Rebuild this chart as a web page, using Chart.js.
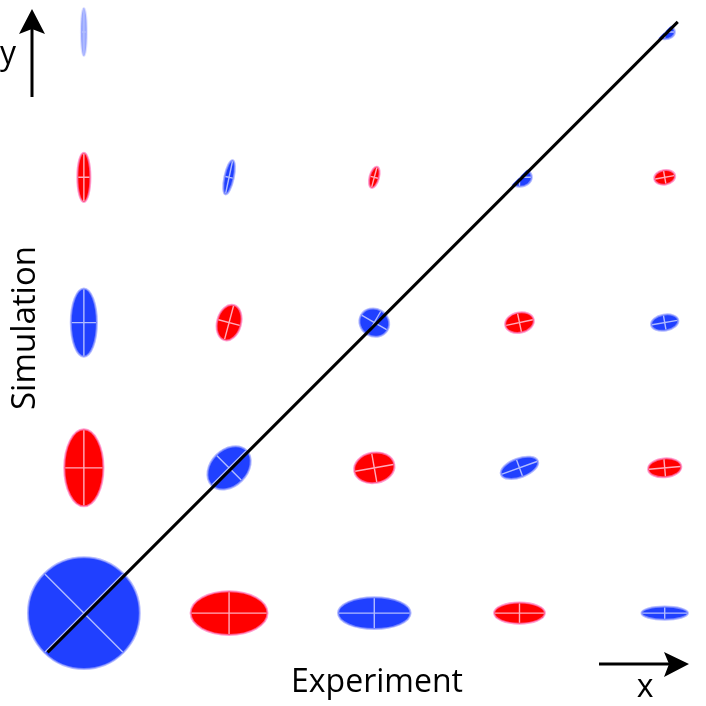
<!DOCTYPE html>
<html>
<head>
<meta charset="utf-8">
<script src="https://cdn.jsdelivr.net/npm/chart.js@4"></script>
<style>
  html, body { margin: 0; padding: 0; background: #fff; }
</style>
</head>
<body>
<canvas id="chart" width="706" height="706"></canvas>
<script>
// grid positions (column = experiment, row = simulation)
const blueX = [0, 2, 4, 1, 3, 0, 2, 4, 1, 3, 0, 4];
const blueY = [0, 0, 0, 1, 1, 2, 2, 2, 3, 3, 4, 4];
// full axis lengths (data units) and tilt of the first axis (degrees)
const blueW = [0.77, 0.50, 0.32, 0.34, 0.27, 0.18, 0.21, 0.19, 0.24, 0.17, 0.04, 0.14];
const blueH = [0.77, 0.22, 0.09, 0.25, 0.13, 0.47, 0.19, 0.11, 0.065, 0.13, 0.33, 0.10];
const blueAngle = [45, 0, 0, 45, 20, 0, -30, 10, 78, 0, 0, 0];
const blueHalf = [false, false, false, false, false, false, false, false, false, true, false, true];
const blueFaint = [false, false, false, false, false, false, false, false, false, false, true, false];

const redX = [1, 3, 0, 2, 4, 1, 3, 0, 2, 4];
const redY = [0, 0, 1, 1, 1, 2, 2, 3, 3, 3];
const redW = [0.53, 0.35, 0.27, 0.28, 0.23, 0.25, 0.20, 0.09, 0.15, 0.145];
const redH = [0.30, 0.145, 0.53, 0.21, 0.13, 0.165, 0.14, 0.34, 0.065, 0.10];
const redAngle = [0, 0, 0, 10, 5, 75, 12, 0, 75, 10];

const diagX = [-0.25, 4.09];
const diagY = [-0.27, 4.07];

function points(xs, ys) {
    return xs.map((x, i) => ({ x: x, y: ys[i] }));
}

const ellipsePlugin = {
    id: 'ellipses',
    beforeDatasetsDraw(chart) {
        const ctx = chart.ctx;
        const sx = chart.scales.x, sy = chart.scales.y;
        const unit = sx.getPixelForValue(1) - sx.getPixelForValue(0);
        chart.data.datasets.forEach(ds => {
            if (!ds.ellipse) return;
            const e = ds.ellipse;
            ds.data.forEach((p, i) => {
                const cx = sx.getPixelForValue(p.x);
                const cy = sy.getPixelForValue(p.y);
                const rx = e.w[i] * unit / 2;
                const ry = e.h[i] * unit / 2;
                const rot = -e.angle[i] * Math.PI / 180;
                ctx.save();
                if (e.half && e.half[i]) {
                    const R = Math.max(rx, ry) * 3 + 4;
                    ctx.beginPath();
                    ctx.moveTo(cx - R, cy + R);
                    ctx.lineTo(cx + R, cy - R);
                    ctx.lineTo(cx + R, cy + R);
                    ctx.closePath();
                    ctx.clip();
                }
                if (e.faint && e.faint[i]) ctx.globalAlpha = 0.45;
                ctx.filter = 'blur(0.6px)';
                ctx.beginPath();
                ctx.ellipse(cx, cy, rx, ry, rot, 0, Math.PI * 2);
                ctx.fillStyle = e.color;
                ctx.fill();
                ctx.lineWidth = 2;
                ctx.strokeStyle = e.halo;
                ctx.stroke();
                // principal axes
                ctx.filter = 'none';
                ctx.translate(cx, cy);
                ctx.rotate(rot);
                ctx.beginPath();
                ctx.moveTo(-rx + 1, 0);
                ctx.lineTo(rx - 1, 0);
                ctx.moveTo(0, -ry + 1);
                ctx.lineTo(0, ry - 1);
                ctx.lineWidth = 1.4;
                ctx.strokeStyle = e.cross;
                ctx.stroke();
                ctx.restore();
            });
        });
    },
    afterDraw(chart) {
        const ctx = chart.ctx;
        ctx.save();
        ctx.fillStyle = '#000';
        ctx.strokeStyle = '#000';
        ctx.lineWidth = 3;
        // y arrow
        ctx.beginPath();
        ctx.moveTo(32, 97);
        ctx.lineTo(32, 28);
        ctx.stroke();
        ctx.beginPath();
        ctx.moveTo(32, 9);
        ctx.lineTo(45, 34);
        ctx.lineTo(32, 29);
        ctx.lineTo(19, 34);
        ctx.closePath();
        ctx.fill();
        // x arrow
        ctx.beginPath();
        ctx.moveTo(599, 664);
        ctx.lineTo(670, 664);
        ctx.stroke();
        ctx.beginPath();
        ctx.moveTo(689, 664);
        ctx.lineTo(664, 652);
        ctx.lineTo(669, 664);
        ctx.lineTo(664, 677);
        ctx.closePath();
        ctx.fill();

        ctx.font = '32px "Open Sans"';
        ctx.textAlign = 'center';
        ctx.textBaseline = 'alphabetic';
        ctx.fillText('Experiment', 377, 692);
        ctx.fillText('x', 645, 697);
        ctx.fillText('y', 8, 64);
        ctx.font = '33px "Open Sans"';
        ctx.translate(35, 328);
        ctx.rotate(-Math.PI / 2);
        ctx.fillText('Simulation', 0, 0);
        ctx.restore();
    }
};

new Chart(document.getElementById('chart'), {
    type: 'scatter',
    data: {
        datasets: [
            {
                label: 'blue',
                data: points(blueX, blueY),
                pointRadius: 0,
                ellipse: {
                    w: blueW, h: blueH, angle: blueAngle, half: blueHalf, faint: blueFaint,
                    color: '#2040ff', halo: 'rgba(150,160,255,0.7)', cross: 'rgba(225,230,255,0.75)'
                }
            },
            {
                label: 'red',
                data: points(redX, redY),
                pointRadius: 0,
                ellipse: {
                    w: redW, h: redH, angle: redAngle,
                    color: '#ff0000', halo: 'rgba(255,120,190,0.7)', cross: 'rgba(255,215,235,0.8)'
                }
            },
            {
                type: 'line',
                label: 'diagonal',
                data: points(diagX, diagY),
                borderColor: '#000',
                borderWidth: 3,
                pointRadius: 0,
                fill: false
            }
        ]
    },
    options: {
        responsive: false,
        animation: false,
        layout: { padding: { left: 4, right: 5, top: 3, bottom: 13 } },
        plugins: {
            legend: { display: false },
            tooltip: { enabled: false }
        },
        scales: {
            x: { type: 'linear', min: -0.55, max: 4.25, display: false },
            y: { type: 'linear', min: -0.55, max: 4.2, display: false }
        }
    },
    plugins: [ellipsePlugin]
});
</script>
</body>
</html>
